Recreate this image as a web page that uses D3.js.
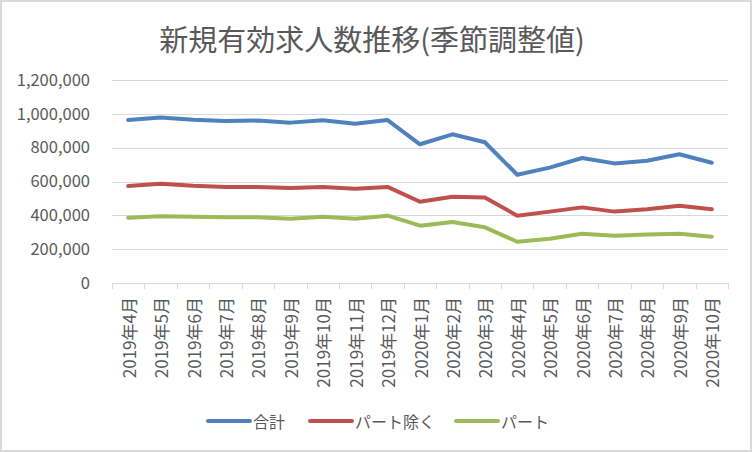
<!DOCTYPE html>
<html><head><meta charset="utf-8">
<script src="https://cdn.jsdelivr.net/npm/d3@7"></script>
<style>body{margin:0;background:#fff}svg{display:block}text{font-family:"Noto Sans CJK JP","Noto Sans",sans-serif;fill:#595959}</style>
</head><body><svg id="c" width="752" height="452"></svg>
<script>
const title = "新規有効求人数推移(季節調整値)";
const categories = ["2019年4月","2019年5月","2019年6月","2019年7月","2019年8月","2019年9月","2019年10月","2019年11月","2019年12月","2020年1月","2020年2月","2020年3月","2020年4月","2020年5月","2020年6月","2020年7月","2020年8月","2020年9月","2020年10月"];
const total = [963000,979000,965000,958000,960000,948000,962000,942000,963000,820000,879000,832000,640000,682000,739000,707000,723000,761000,711000];
const nonPart = [573000,587000,575000,568000,568000,562000,568000,557000,568000,480000,510000,506000,398000,422000,447000,422000,436000,457000,436000];
const part = [386000,394000,392000,388000,388000,380000,392000,380000,398000,339000,361000,329000,244000,262000,291000,280000,286000,291000,274000];
const seriesNames = ["合計","パート除く","パート"];
const colors = ["#4F81BD","#C0504D","#9BBB59"];
const yTicks = [0,200000,400000,600000,800000,1000000,1200000];

const svg = d3.select("#c");
svg.append("rect").attr("x",1).attr("y",1).attr("width",750).attr("height",450)
  .attr("fill","#fff").attr("stroke","#D9D9D9").attr("stroke-width",2);

const L=112,R=728,T=80,B=283;
const x = d3.scaleBand().domain(categories).range([L,R]);
const y = d3.scaleLinear().domain([0,1200000]).range([B,T]);

svg.append("text").attr("x",372).attr("y",38).attr("text-anchor","middle")
  .attr("dominant-baseline","central").style("font-size","29px").text(title);

// gridlines
svg.append("g").selectAll("line").data(yTicks.filter(d=>d>0)).join("line")
  .attr("x1",L).attr("x2",R).attr("y1",d=>Math.round(y(d))+0.5).attr("y2",d=>Math.round(y(d))+0.5)
  .attr("stroke","#D9D9D9").attr("stroke-width",1);

// y axis labels
const yAxis = d3.axisLeft(y).tickValues(yTicks).tickFormat(d3.format(",")).tickSize(0).tickPadding(22);
const gy = svg.append("g").attr("transform",`translate(${L},0)`).call(yAxis);
gy.select(".domain").remove();
gy.selectAll("text").style("font-size","16.5px").attr("fill","#595959").style("font-family",'"Noto Sans CJK JP","Noto Sans",sans-serif');

// x axis
const gx = svg.append("g").attr("transform",`translate(0,${B})`);
gx.append("line").attr("x1",L).attr("x2",R).attr("y1",0.5).attr("y2",0.5).attr("stroke","#D9D9D9");
const bounds = categories.map(c=>x(c)).concat([R]);
gx.selectAll("line.tk").data(bounds).join("line").attr("class","tk")
  .attr("x1",d=>Math.round(d)+0.5).attr("x2",d=>Math.round(d)+0.5).attr("y1",0).attr("y2",6)
  .attr("stroke","#D9D9D9");
gx.selectAll("text").data(categories).join("text")
  .attr("transform",d=>`translate(${x(d)+x.bandwidth()/2},14) rotate(-90)`)
  .attr("text-anchor","end").attr("dominant-baseline","central")
  .style("font-size","17px").text(d=>d);

// lines
const data = [total,nonPart,part];
const line = d3.line().x((d,i)=>x(categories[i])+x.bandwidth()/2).y(d=>y(d));
svg.append("g").selectAll("path").data(data).join("path")
  .attr("d",line).attr("fill","none").attr("stroke",(d,i)=>colors[i])
  .attr("stroke-width",4).attr("stroke-linejoin","round").attr("stroke-linecap","round");

// legend
const legX = [208,310,456];
const lg = svg.append("g").selectAll("g").data(seriesNames).join("g")
  .attr("transform",(d,i)=>`translate(${legX[i]},421)`);
lg.append("line").attr("x1",0).attr("x2",42).attr("y1",0).attr("y2",0)
  .attr("stroke",(d,i)=>colors[i]).attr("stroke-width",4).attr("stroke-linecap","round");
lg.append("text").attr("x",45).attr("y",0).attr("dominant-baseline","central")
  .style("font-size","16px").text(d=>d);
</script></body></html>
